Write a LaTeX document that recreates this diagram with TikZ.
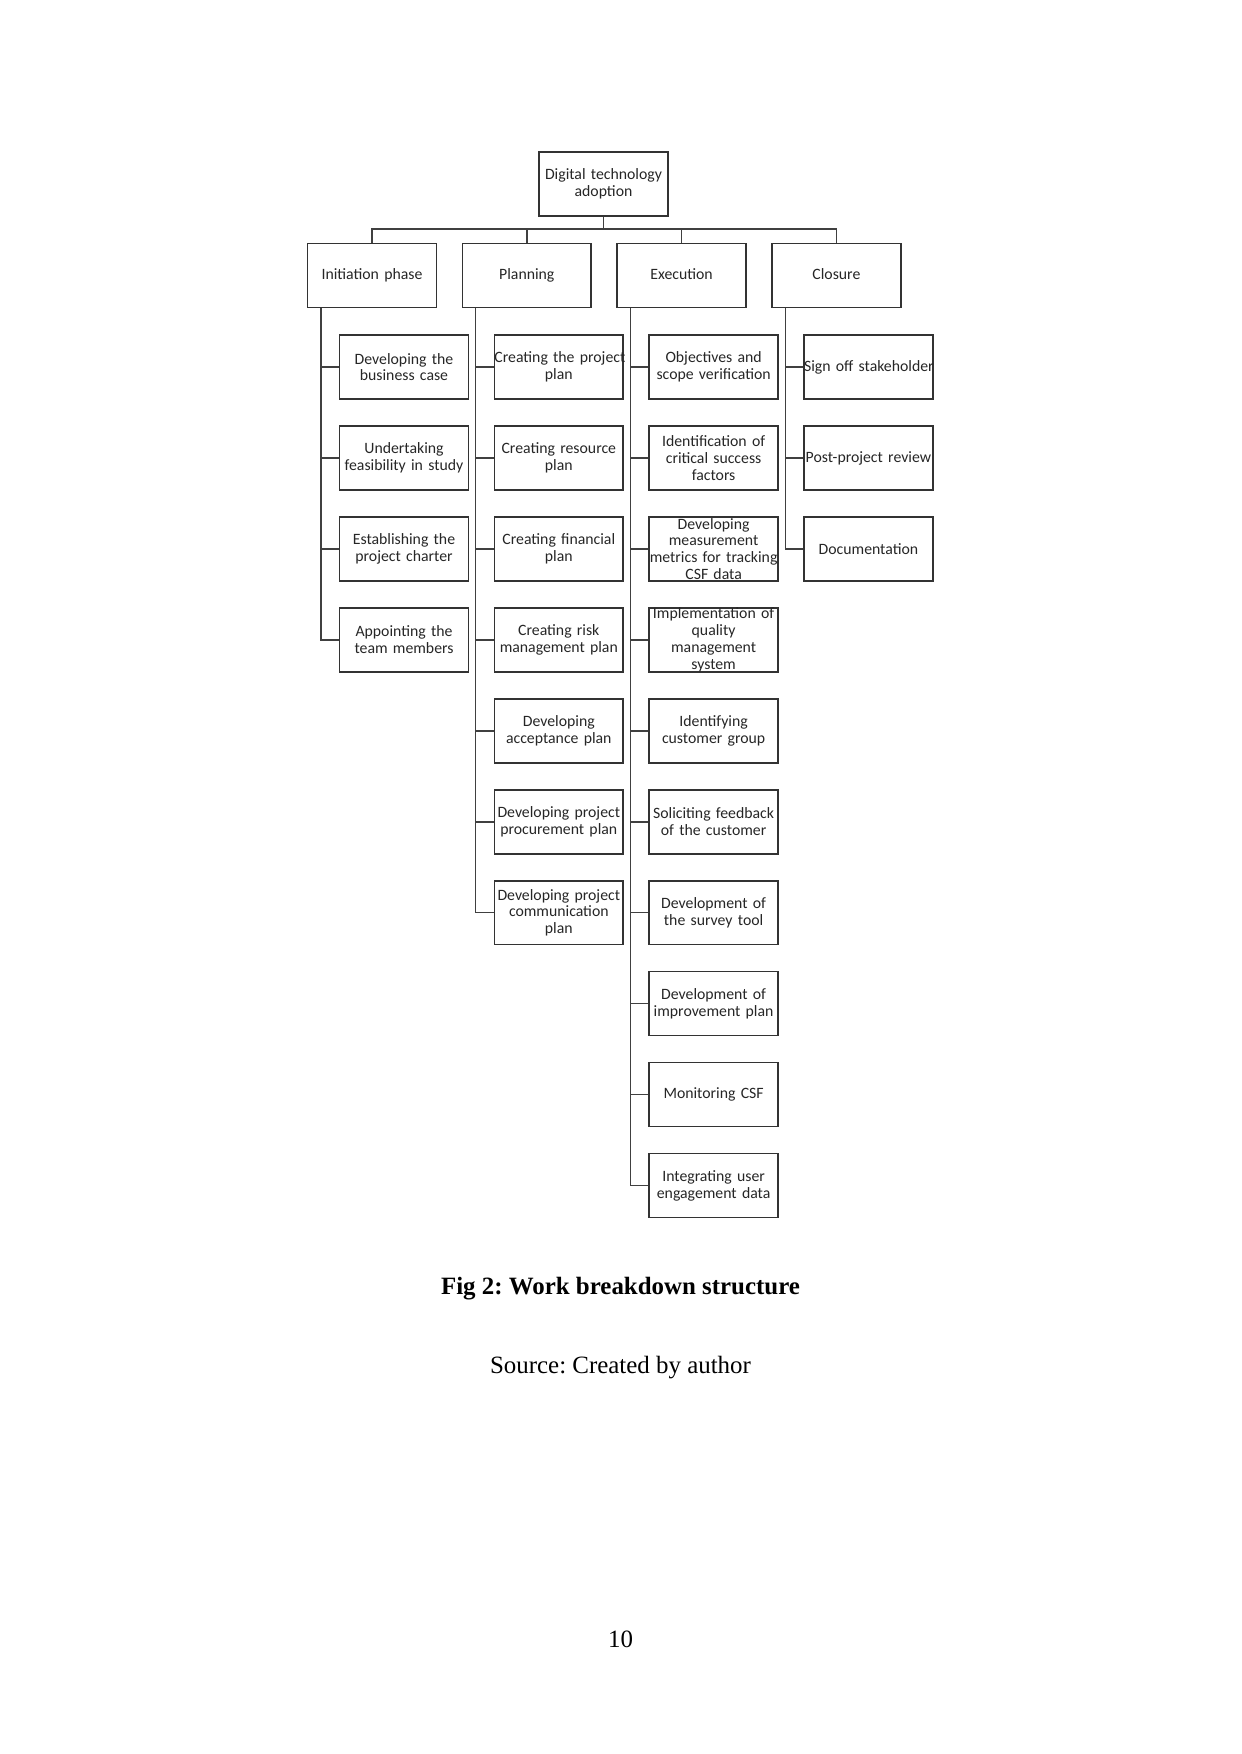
\documentclass[tikz,border=0pt]{standalone}
\usepackage{fontspec}
\setmainfont{Liberation Serif}
\newfontfamily\boxfont{Carlito}
\usetikzlibrary{calc}
\frenchspacing
\begin{document}
\begin{tikzpicture}[x=0.4817pt,y=-0.4817pt,
  wbox/.style={draw=black!80,line width=0.75pt,inner sep=0pt,text width=62pt,
    minimum height=30.8pt,align=center,
    font=\boxfont\fontsize{7.6}{8.1}\selectfont,text=black!85},
  conn/.style={draw=black!75,line width=0.75pt},
  captxt/.style={inner sep=0pt,font=\fontsize{12}{14}\selectfont}]
\useasboundingbox (0,0) rectangle (1241,1754);

% root and phases
\node[wbox] (root) at (603.5,184) {Digital technology\\adoption};
\node[wbox] (p1) at (372,275.5) {Initiation phase\vphantom{Ip}};
\node[wbox] (p2) at (526.8,275.5) {Planning\vphantom{Ip}};
\node[wbox] (p3) at (681.6,275.5) {Execution\vphantom{Ip}};
\node[wbox] (p4) at (836.4,275.5) {Closure\vphantom{Ip}};

\coordinate (bus) at (603.5,229);
\draw[conn] (root.south) -- (bus);
\draw[conn] (p1.north) |- (p4.north |- bus) -- (p4.north);
\draw[conn] (p2.north) -- (p2.north |- bus);
\draw[conn] (p3.north) -- (p3.north |- bus);

% spines
\coordinate (s1) at ($(p1.south west)+(14,0)$);
\coordinate (s2) at ($(p2.south west)+(14,0)$);
\coordinate (s3) at ($(p3.south west)+(14,0)$);
\coordinate (s4) at ($(p4.south west)+(14,0)$);

% column 1
\foreach \t [count=\i] in {{Developing the\\business case},{Undertaking\\feasibility in study},
  {Establishing the\\project charter},{Appointing the\\team members}}{
  \node[wbox] (c1-\i) at (404,{367+(\i-1)*90.95}) {\t};
  \draw[conn] (c1-\i.west) -- (c1-\i.west -| s1);
}
\draw[conn] (s1) |- (c1-4.west);

% column 2
\foreach \t [count=\i] in {{\mbox{Creating the project}\\plan},{Creating resource\\plan},
  {Creating financial\\plan},{Creating risk\\management plan},{Developing\\acceptance plan},
  {\mbox{Developing project}\\procurement plan},{\mbox{Developing project}\\communication\\plan}}{
  \node[wbox] (c2-\i) at (558.8,{367+(\i-1)*90.95}) {\t};
  \draw[conn] (c2-\i.west) -- (c2-\i.west -| s2);
}
\draw[conn] (s2) |- (c2-7.west);

% column 3
\foreach \t [count=\i] in {{Objectives and\\scope verification},{Identification of\\critical success\\factors},
  {Developing\\measurement\\\mbox{metrics for tracking}\\CSF data},{\mbox{Implementation of}\\quality\\management\\system},
  {Identifying\\customer group},{\mbox{Soliciting feedback}\\of the customer},{Development of\\the survey tool},
  {Development of\\improvement plan},{Monitoring CSF},{Integrating user\\engagement data}}{
  \node[wbox] (c3-\i) at (713.6,{367+(\i-1)*90.95}) {\t};
  \draw[conn] (c3-\i.west) -- (c3-\i.west -| s3);
}
\draw[conn] (s3) |- (c3-10.west);

% column 4
\foreach \t [count=\i] in {{\mbox{Sign off stakeholder}},{\mbox{Post-project review}},{Documentation}}{
  \node[wbox] (c4-\i) at (868.4,{367+(\i-1)*90.95}) {\t};
  \draw[conn] (c4-\i.west) -- (c4-\i.west -| s4);
}
\draw[conn] (s4) |- (c4-3.west);

% captions
\node[captxt,font=\bfseries\fontsize{12}{14}\selectfont] (cap) at (620.5,1289) {Fig 2: Work breakdown structure};
\node[captxt] (src) at (620.5,1368) {Source: Created by author};
\node[captxt] (pg) at (620.5,1639) {10};
\end{tikzpicture}
\end{document}
